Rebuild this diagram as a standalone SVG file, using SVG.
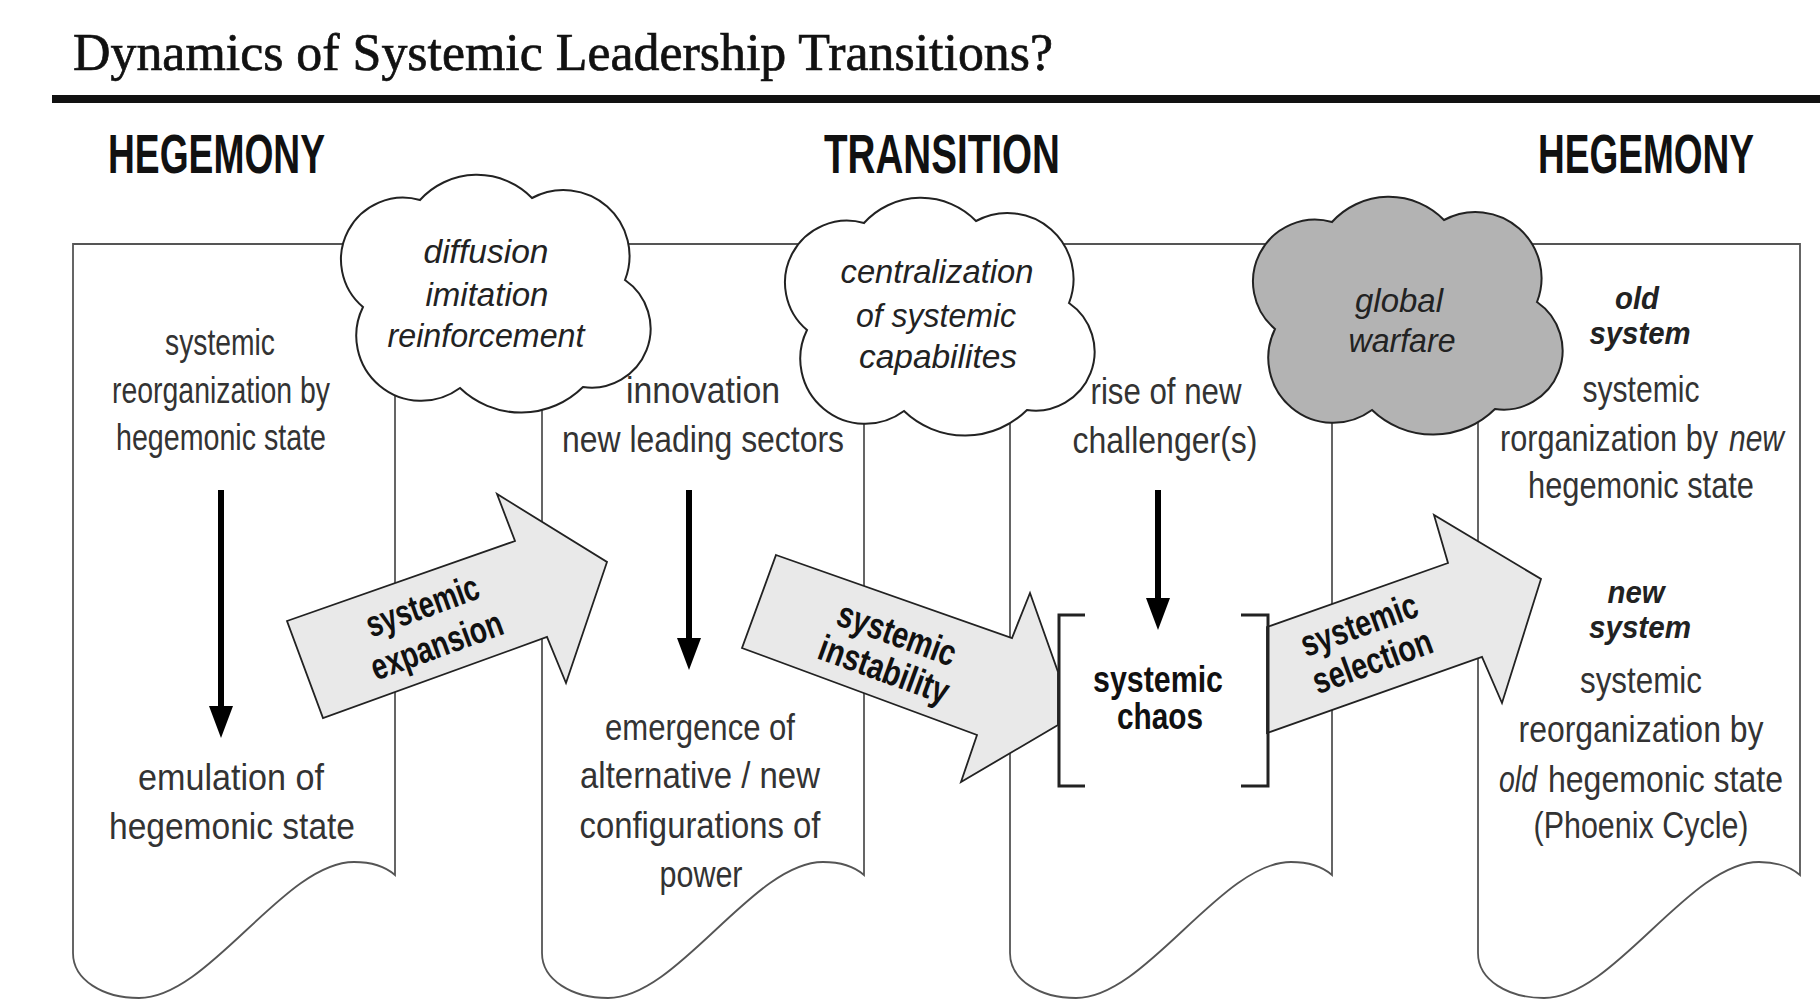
<svg xmlns="http://www.w3.org/2000/svg" width="1820" height="1001" viewBox="0 0 1820 1001">
<defs>
<style>
.title{font-family:'Liberation Serif','Times New Roman',serif;font-size:52px;fill:#111;stroke:#111;stroke-width:0.7}
.hdr{font-family:'Liberation Sans Narrow','Liberation Sans',Arial,sans-serif;font-size:56px;font-weight:bold;fill:#111}
.panel{fill:#fff;stroke:#555;stroke-width:1.8}
.pt{font-family:'Liberation Sans Narrow','Liberation Sans',Arial,sans-serif;font-size:36px;fill:#333;text-anchor:middle}
.ps{font-family:'Liberation Sans Narrow','Liberation Sans',Arial,sans-serif;font-size:36px;fill:#333}
.pi{font-family:'Liberation Sans Narrow','Liberation Sans',Arial,sans-serif;font-size:32px;font-style:italic;font-weight:bold;fill:#222;text-anchor:middle}
.ct{font-family:'Liberation Sans Narrow','Liberation Sans',Arial,sans-serif;font-size:33px;font-style:italic;fill:#222;text-anchor:middle}
.cloud{stroke:#222;stroke-width:2}
.barrow{fill:#e9e9e9;stroke:#222;stroke-width:1.8;stroke-linejoin:miter}
.al{font-family:'Liberation Sans Narrow','Liberation Sans',Arial,sans-serif;font-size:37px;font-weight:bold;fill:#111;text-anchor:middle}
.darrow{stroke:#000;stroke-width:6;fill:none;marker-end:url(#ah)}
.bracket{fill:none;stroke:#222;stroke-width:3}
</style>
<path id="cloudShape" d="M420,200 A77,77 0 0 1 532,198 A66,66 0 0 1 625,280 A59,59 0 0 1 583,387 A88,88 0 0 1 460,388 A65,65 0 0 1 363,307 A62,62 0 0 1 420,200 Z"/>
<marker id="ah" markerUnits="userSpaceOnUse" markerWidth="32" markerHeight="24" viewBox="0 0 32 24" refX="20" refY="12" orient="auto"><path d="M0,0 L32,12 L0,24 Z" fill="#000"/></marker>
</defs>
<rect width="1820" height="1001" fill="#fff"/>

<g id="header">
<text class="title" x="73" y="70" textLength="980" lengthAdjust="spacingAndGlyphs">Dynamics of Systemic Leadership Transitions?</text>
<rect x="52" y="95" width="1768" height="8" fill="#111"/>
<text class="hdr" x="108" y="173" textLength="217" lengthAdjust="spacingAndGlyphs">HEGEMONY</text>
<text class="hdr" x="824" y="173" textLength="236" lengthAdjust="spacingAndGlyphs">TRANSITION</text>
<text class="hdr" x="1754" y="173" text-anchor="end" textLength="216" lengthAdjust="spacingAndGlyphs">HEGEMONY</text>
</g>

<g id="panel1">
<path class="panel" d="M73,244 H395 V875 C387,868 375,862 354,862 C284,862 209,998 139,998 C103,998 73,980 73,953 Z"/>
<text class="pt" x="220" y="355" textLength="110" lengthAdjust="spacingAndGlyphs">systemic</text>
<text class="pt" x="221" y="403" textLength="218" lengthAdjust="spacingAndGlyphs">reorganization by</text>
<text class="pt" x="221" y="450" textLength="210" lengthAdjust="spacingAndGlyphs">hegemonic state</text>
<text class="pt" x="231" y="790" textLength="186" lengthAdjust="spacingAndGlyphs">emulation of</text>
<text class="pt" x="232" y="839" textLength="246" lengthAdjust="spacingAndGlyphs">hegemonic state</text>
</g>

<g id="panel2">
<path class="panel" d="M542,244 H864 V875 C856,868 844,862 823,862 C753,862 678,998 608,998 C572,998 542,980 542,953 Z"/>
<text class="pt" x="703" y="403" textLength="154" lengthAdjust="spacingAndGlyphs">innovation</text>
<text class="pt" x="703" y="452" textLength="282" lengthAdjust="spacingAndGlyphs">new leading sectors</text>
<text class="pt" x="700" y="740" textLength="190" lengthAdjust="spacingAndGlyphs">emergence of</text>
<text class="pt" x="700" y="788" textLength="240" lengthAdjust="spacingAndGlyphs">alternative / new</text>
<text class="pt" x="700" y="838" textLength="241" lengthAdjust="spacingAndGlyphs">configurations of</text>
<text class="pt" x="701" y="887" textLength="83" lengthAdjust="spacingAndGlyphs">power</text>
</g>

<g id="panel3">
<path class="panel" d="M1010,244 H1332 V875 C1324,868 1312,862 1291,862 C1221,862 1146,998 1076,998 C1040,998 1010,980 1010,953 Z"/>
<text class="pt" x="1166" y="404" textLength="151" lengthAdjust="spacingAndGlyphs">rise of new</text>
<text class="pt" x="1165" y="453" textLength="185" lengthAdjust="spacingAndGlyphs">challenger(s)</text>
</g>

<g id="panel4">
<path class="panel" d="M1478,244 H1800 V875 C1792,868 1780,862 1759,862 C1689,862 1614,998 1544,998 C1508,998 1478,980 1478,953 Z"/>
<text class="pi" x="1637" y="309" textLength="44" lengthAdjust="spacingAndGlyphs">old</text>
<text class="pi" x="1640" y="344" textLength="101" lengthAdjust="spacingAndGlyphs">system</text>
<text class="pt" x="1641" y="402" textLength="117" lengthAdjust="spacingAndGlyphs">systemic</text>
<text class="ps" x="1500" y="451" textLength="218" lengthAdjust="spacingAndGlyphs">rorganization by</text>
<text class="ps" x="1729" y="451" font-style="italic" textLength="55" lengthAdjust="spacingAndGlyphs">new</text>
<text class="pt" x="1641" y="498" textLength="226" lengthAdjust="spacingAndGlyphs">hegemonic state</text>
<text class="pi" x="1636" y="603" textLength="57" lengthAdjust="spacingAndGlyphs">new</text>
<text class="pi" x="1640" y="638" textLength="102" lengthAdjust="spacingAndGlyphs">system</text>
<text class="pt" x="1641" y="693" textLength="122" lengthAdjust="spacingAndGlyphs">systemic</text>
<text class="pt" x="1641" y="742" textLength="245" lengthAdjust="spacingAndGlyphs">reorganization by</text>
<text class="ps" x="1499" y="792" font-style="italic" textLength="38" lengthAdjust="spacingAndGlyphs">old</text>
<text class="ps" x="1548" y="792" textLength="235" lengthAdjust="spacingAndGlyphs">hegemonic state</text>
<text class="pt" x="1641" y="838" textLength="215" lengthAdjust="spacingAndGlyphs">(Phoenix Cycle)</text>
</g>

<g id="cloud-diffusion">
<use href="#cloudShape" class="cloud" fill="#fff"/>
<text class="ct" x="486" y="263" textLength="125" lengthAdjust="spacingAndGlyphs">diffusion</text>
<text class="ct" x="487" y="306" textLength="123" lengthAdjust="spacingAndGlyphs">imitation</text>
<text class="ct" x="486" y="347" textLength="197" lengthAdjust="spacingAndGlyphs">reinforcement</text>
</g>

<g id="cloud-centralization">
<use href="#cloudShape" class="cloud" fill="#fff" transform="translate(444,23)"/>
<text class="ct" x="937" y="283" textLength="193" lengthAdjust="spacingAndGlyphs">centralization</text>
<text class="ct" x="936" y="327" textLength="160" lengthAdjust="spacingAndGlyphs">of systemic</text>
<text class="ct" x="938" y="368" textLength="158" lengthAdjust="spacingAndGlyphs">capabilites</text>
</g>

<g id="cloud-warfare">
<use href="#cloudShape" class="cloud" fill="#b3b3b3" transform="translate(912,22)"/>
<text class="ct" x="1399" y="312" textLength="88" lengthAdjust="spacingAndGlyphs">global</text>
<text class="ct" x="1402" y="352" textLength="107" lengthAdjust="spacingAndGlyphs">warfare</text>
</g>

<g id="connectors">
<g id="arrow-expansion">
<polygon class="barrow" points="287,621 515,541 497,494 607,562 566,683 547,637 323,718"/>
<g transform="translate(430,627) rotate(-20)">
<text class="al" x="0" y="-10" textLength="118" lengthAdjust="spacingAndGlyphs">systemic</text>
<text class="al" x="0" y="32" textLength="138" lengthAdjust="spacingAndGlyphs">expansion</text>
</g>
</g>
<g id="arrow-instability">
<polygon class="barrow" points="776,555 1012,638 1030,593 1058,672 1058,725 961,782 977,735 742,648"/>
<g transform="translate(890,653) rotate(20)">
<text class="al" x="0" y="-8" textLength="124" lengthAdjust="spacingAndGlyphs">systemic</text>
<text class="al" x="0" y="30" textLength="136" lengthAdjust="spacingAndGlyphs">instability</text>
</g>
</g>
<g id="arrow-selection">
<polygon class="barrow" points="1267,627 1448,563 1434,515 1541,579 1502,703 1482,657 1267,733"/>
<g transform="translate(1366,644) rotate(-20)">
<text class="al" x="0" y="-8" textLength="122" lengthAdjust="spacingAndGlyphs">systemic</text>
<text class="al" x="0" y="31" textLength="125" lengthAdjust="spacingAndGlyphs">selection</text>
</g>
</g>
<line class="darrow" x1="221" y1="490" x2="221" y2="726"/>
<line class="darrow" x1="689" y1="490" x2="689" y2="658"/>
<line class="darrow" x1="1158" y1="490" x2="1158" y2="618"/>
</g>

<g id="systemic-chaos">
<path class="bracket" d="M1085,615 H1059 V786 H1085 M1241,615 H1268 V786 H1241"/>
<text class="al" x="1158" y="692" textLength="130" lengthAdjust="spacingAndGlyphs">systemic</text>
<text class="al" x="1160" y="729" textLength="86" lengthAdjust="spacingAndGlyphs">chaos</text>
</g>
</svg>
